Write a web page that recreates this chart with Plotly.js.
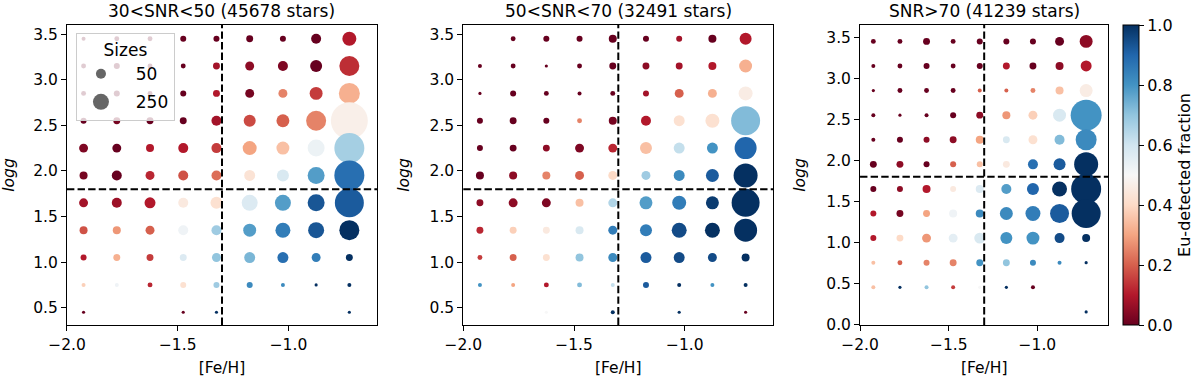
<!DOCTYPE html>
<html>
<head>
<meta charset="utf-8">
<script src="https://cdn.plot.ly/plotly-3.0.1.min.js"></script>
<style>
  body { margin: 0; background: #fff; }
  #myDiv { width: 1200px; height: 377px; }
</style>
</head>
<body>
<div id="myDiv"></div>
<script>
// bin centres of the [Fe/H] / logg grid
var fehBins = [-1.925, -1.775, -1.625, -1.475, -1.325, -1.175, -1.025, -0.875, -0.725];
var loggBins = [3.45, 3.15, 2.85, 2.55, 2.25, 1.95, 1.65, 1.35, 1.05, 0.75, 0.45, 0.15];

var panelTitles = ['30<SNR<50 (45678 stars)', '50<SNR<70 (32491 stars)', 'SNR>70 (41239 stars)'];
var fehCut = -1.3;
var loggCut = 1.8;
var legendSizes = [50, 250];

// 30<SNR<50 : marker size (s) and Eu-detected fraction, rows top -> bottom
var sizes1 = [
  [8, 12, 12, 18, 18, 24, 18, 50, 98],
  [12, 18, 12, 12, 24, 40, 50, 72, 200],
  [12, 18, 12, 18, 24, 40, 40, 84, 220],
  [18, 24, 24, 24, 50, 72, 84, 200, 684],
  [40, 40, 32, 50, 50, 98, 84, 144, 450],
  [32, 50, 40, 50, 50, 60, 72, 144, 450],
  [40, 50, 60, 50, 72, 128, 128, 144, 420],
  [32, 32, 40, 50, 50, 84, 112, 128, 200],
  [18, 24, 24, 24, 40, 60, 60, 40, 24],
  [8, 8, 12, 18, 18, 18, 8, 5, 8],
  [5, null, null, 5, 5, null, null, null, 5],
  [null, null, null, null, null, null, null, null, null]
];
var frac1 = [
  [0.0, 0.0, 0.0, 0.0, 0.0, 0.0, 0.0, 0.0, 0.1],
  [0.0, 0.0, 0.0, 0.0, 0.08, 0.05, 0.03, 0.0, 0.13],
  [0.0, 0.0, 0.0, 0.0, 0.1, 0.02, 0.25, 0.15, 0.32],
  [0.0, 0.02, 0.0, 0.0, 0.08, 0.17, 0.2, 0.25, 0.47],
  [0.03, 0.0, 0.1, 0.1, 0.15, 0.3, 0.35, 0.53, 0.67],
  [0.02, 0.0, 0.12, 0.18, 0.22, 0.43, 0.58, 0.78, 0.88],
  [0.08, 0.07, 0.1, 0.45, 0.42, 0.57, 0.78, 0.93, 0.92],
  [0.18, 0.28, 0.2, 0.52, 0.68, 0.78, 0.85, 0.93, 1.0],
  [0.1, 0.32, 0.15, 0.57, 0.7, 0.73, 0.88, 0.85, 1.0],
  [0.38, 0.52, 0.12, 0.42, 0.68, 0.82, 0.82, 1.0, 1.0],
  [0.0, null, null, 0.0, 1.0, null, null, null, 1.0],
  [null, null, null, null, null, null, null, null, null]
];

// 50<SNR<70
var sizes2 = [
  [null, 12, 18, 18, 32, 18, 18, 32, 72],
  [8, 12, 5, 12, 24, 24, 24, 32, 84],
  [5, 18, 12, 8, 12, 18, 40, 40, 98],
  [18, 24, 18, 12, 32, 50, 60, 98, 420],
  [18, 24, 24, 40, 40, 72, 60, 60, 242],
  [32, 32, 32, 40, 40, 40, 60, 84, 288],
  [24, 40, 40, 32, 40, 84, 98, 84, 392],
  [24, 24, 24, 32, 40, 72, 112, 112, 264],
  [12, 24, 24, 32, 40, 60, 60, 40, 32],
  [8, 8, 12, 12, 8, 18, 8, 8, 8],
  [null, null, 5, null, 8, null, 5, null, 5],
  [null, null, null, null, null, null, null, null, null]
];
var frac2 = [
  [null, 0.0, 0.0, 0.0, 0.0, 0.0, 0.08, 0.0, 0.1],
  [0.0, 0.0, 0.0, 0.0, 0.0, 0.05, 0.08, 0.1, 0.32],
  [0.0, 0.0, 0.0, 0.0, 0.0, 0.08, 0.2, 0.32, 0.46],
  [0.0, 0.0, 0.0, 0.25, 0.02, 0.1, 0.42, 0.42, 0.72],
  [0.0, 0.0, 0.05, 0.03, 0.12, 0.35, 0.62, 0.8, 0.9],
  [0.0, 0.05, 0.25, 0.2, 0.4, 0.68, 0.82, 0.92, 1.0],
  [0.05, 0.05, 0.03, 0.35, 0.65, 0.78, 0.85, 0.98, 1.0],
  [0.12, 0.38, 0.45, 0.58, 0.85, 0.85, 0.95, 1.0, 1.0],
  [0.15, 0.2, 0.42, 0.7, 0.82, 0.92, 0.95, 0.95, 1.0],
  [0.8, 0.3, 0.1, 0.72, 0.62, 0.92, 1.0, 0.8, 1.0],
  [null, null, 0.5, null, 1.0, null, 1.0, null, 0.0],
  [null, null, null, null, null, null, null, null, null]
];

// SNR>70
var sizes3 = [
  [12, 12, 24, 12, 18, 18, 18, 40, 84],
  [8, 12, 18, 12, 18, 24, 24, 32, 60],
  [5, 12, 12, 12, 8, 8, 12, 32, 84],
  [8, 5, 8, 18, 24, 32, 40, 84, 480],
  [8, 18, 18, 24, 32, 24, 40, 50, 220],
  [24, 24, 18, 18, 18, 24, 50, 72, 288],
  [18, 18, 32, 18, 32, 50, 72, 112, 450],
  [18, 24, 24, 32, 32, 84, 112, 180, 420],
  [18, 24, 40, 40, 60, 72, 84, 50, 32],
  [8, 12, 18, 24, 24, 24, 18, 8, 5],
  [8, 5, 8, 8, 5, 5, 8, null, null],
  [null, null, null, null, null, null, null, null, 5]
];
var frac3 = [
  [0.0, 0.0, 0.0, 0.0, 0.0, 0.0, 0.0, 0.0, 0.05],
  [0.0, 0.0, 0.0, 0.0, 0.0, 0.1, 0.0, 0.05, 0.1],
  [0.0, 0.0, 0.0, 0.0, 0.2, 0.2, 0.25, 0.35, 0.46],
  [0.0, 0.0, 0.0, 0.0, 0.05, 0.28, 0.38, 0.58, 0.8],
  [0.0, 0.0, 0.05, 0.05, 0.3, 0.58, 0.42, 0.72, 0.82],
  [0.0, 0.05, 0.0, 0.2, 0.35, 0.45, 0.88, 0.92, 1.0],
  [0.0, 0.05, 0.1, 0.45, 0.57, 0.78, 0.9, 1.0, 1.0],
  [0.1, 0.02, 0.3, 0.52, 0.82, 0.82, 0.85, 0.92, 1.0],
  [0.1, 0.4, 0.28, 0.55, 0.58, 0.8, 0.8, 0.95, 1.0],
  [0.35, 0.2, 0.25, 0.25, 0.8, 0.7, 0.82, 0.82, 1.0],
  [0.35, 1.0, 0.7, 0.15, 0.5, 1.0, 0.0, null, null],
  [null, null, null, null, null, null, null, null, 1.0]
];

// matplotlib RdBu
var rdbu = [
  [0.0, '#67001f'], [0.1, '#b2182b'], [0.2, '#d6604d'], [0.3, '#f4a582'],
  [0.4, '#fddbc7'], [0.5, '#f7f7f7'], [0.6, '#d1e5f0'], [0.7, '#92c5de'],
  [0.8, '#4393c3'], [0.9, '#2166ac'], [1.0, '#053061']
];

var FONT = 'DejaVu Sans, sans-serif';

function gridTrace(sizes, frac, xa, ya) {
  var x = [], y = [], s = [], c = [];
  for (var r = 0; r < loggBins.length; r++) {
    for (var k = 0; k < fehBins.length; k++) {
      if (sizes[r][k] == null) continue;
      x.push(fehBins[k]);
      y.push(loggBins[r]);
      s.push(sizes[r][k]);
      c.push(frac[r][k]);
    }
  }
  return {
    type: 'scatter', mode: 'markers', x: x, y: y, xaxis: xa, yaxis: ya,
    showlegend: false, hoverinfo: 'skip',
    marker: { size: s, sizemode: 'area', sizeref: 1, color: c, opacity: 1,
              coloraxis: 'coloraxis', line: { width: 0 } }
  };
}

var data = [
  gridTrace(sizes1, frac1, 'x', 'y'),
  gridTrace(sizes2, frac2, 'x2', 'y2'),
  gridTrace(sizes3, frac3, 'x3', 'y3')
];

// size legend entries
legendSizes.forEach(function (s) {
  data.push({
    type: 'scatter', mode: 'markers', x: [null], y: [null], xaxis: 'x', yaxis: 'y',
    name: '\u00a0\u00a0' + s, legendgroup: 'g' + s,
    marker: { size: Math.sqrt(2 * s), color: '#666666', opacity: 1, line: { width: 0 } }
  });
});

function xAxis(dom) {
  return {
    domain: dom, range: [-2.0, -0.6], tick0: -2, dtick: 0.5, tickformat: '.1f',
    showgrid: false, zeroline: false, showline: true, mirror: true,
    linecolor: '#000', linewidth: 1, ticks: 'outside', ticklen: 5, tickcolor: '#000',
    tickfont: { family: FONT, size: 15.5, color: '#000' },
    title: { text: '[Fe/H]', font: { family: FONT, size: 15.5, color: '#000' } }
  };
}
function yAxis(anchor, rng, t0) {
  return {
    domain: [0, 1], anchor: anchor, range: rng, tick0: t0, dtick: 0.5, tickformat: '.1f',
    showgrid: false, zeroline: false, showline: true, mirror: true,
    linecolor: '#000', linewidth: 1, ticks: 'outside', ticklen: 5, tickcolor: '#000',
    tickfont: { family: FONT, size: 15.5, color: '#000' },
    automargin: true,
    title: { text: '<i>logg</i>', standoff: 16, font: { family: FONT, size: 15.5, color: '#000' } }
  };
}

var shapes = [];
var annotations = [];
['', '2', '3'].forEach(function (n, i) {
  shapes.push({ type: 'line', xref: 'x' + n, yref: 'y' + n + ' domain',
    x0: fehCut, x1: fehCut, y0: 0, y1: 1,
    line: { color: '#000', width: 2, dash: '7.4px,3.2px' } });
  shapes.push({ type: 'line', xref: 'x' + n + ' domain', yref: 'y' + n,
    x0: 0, x1: 1, y0: loggCut, y1: loggCut,
    line: { color: '#000', width: 2, dash: '7.4px,3.2px' } });
  annotations.push({ xref: 'x' + n + ' domain', yref: 'y' + n + ' domain',
    x: 0.5, y: 1, xanchor: 'center', yanchor: 'bottom', yshift: 2,
    showarrow: false, text: panelTitles[i],
    font: { family: FONT, size: 17, color: '#000' } });
});

var layout = {
  width: 1200, height: 377,
  margin: { l: 0, r: 0, t: 25, b: 52, pad: 0 },
  paper_bgcolor: '#fff', plot_bgcolor: '#fff',
  font: { family: FONT, color: '#000' },
  xaxis: xAxis([0.0558, 0.3142]),
  xaxis2: xAxis([0.3861, 0.6444]),
  xaxis3: xAxis([0.7167, 0.9236]),
  yaxis: yAxis('x', [0.31, 3.6], 0.5),
  yaxis2: yAxis('x2', [0.31, 3.6], 0.5),
  yaxis3: yAxis('x3', [-0.01, 3.65], 0),
  coloraxis: {
    cmin: 0, cmax: 1, colorscale: rdbu,
    colorbar: {
      x: 0.9361, xanchor: 'left', xref: 'paper', xpad: 0, ypad: 0,
      y: 0.5, yanchor: 'middle', len: 1, lenmode: 'fraction', thickness: 16,
      outlinewidth: 1, outlinecolor: '#000', borderwidth: 0,
      tickvals: [0, 0.2, 0.4, 0.6, 0.8, 1.0], tickformat: '.1f',
      ticks: 'outside', ticklen: 5, tickcolor: '#000',
      tickfont: { family: FONT, size: 16, color: '#000' },
      title: { text: 'Eu-detected fraction', side: 'right',
               font: { family: FONT, size: 16, color: '#000' } }
    }
  },
  showlegend: true,
  legend: {
    x: 0.0633, y: 0.973, xanchor: 'left', yanchor: 'top',
    bgcolor: 'rgba(255,255,255,0.8)', bordercolor: '#cccccc', borderwidth: 1,
    itemsizing: 'trace', itemwidth: 38, tracegroupgap: 3,
    font: { family: FONT, size: 17, color: '#000' },
    title: { text: 'Sizes', side: 'top center', font: { family: FONT, size: 17, color: '#000' } }
  },
  shapes: shapes,
  annotations: annotations
};

Plotly.newPlot('myDiv', data, layout, { staticPlot: true });
</script>
</body>
</html>
